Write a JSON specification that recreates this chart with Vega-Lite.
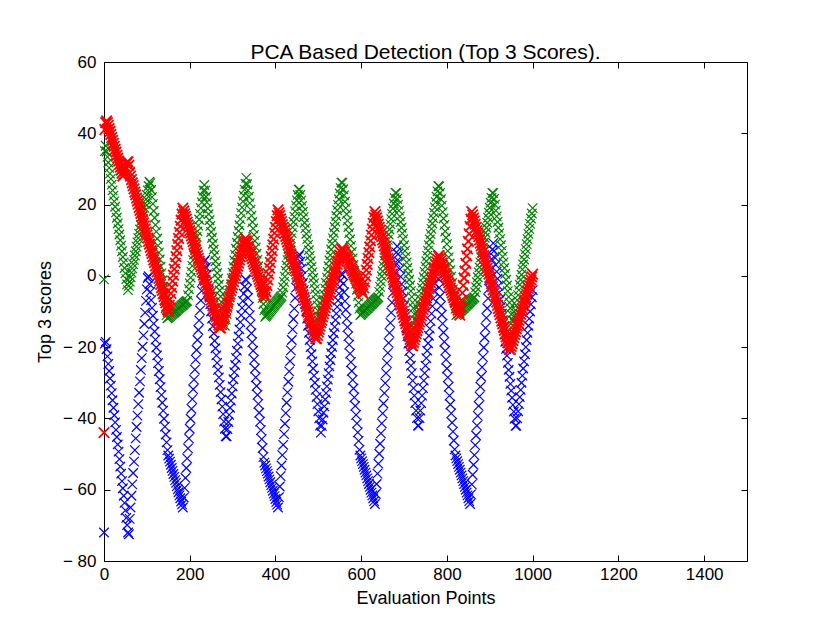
{
"$schema":"https://vega.github.io/schema/vega-lite/v6.json",
"width":643,"height":499,
"autosize":{"type":"none"},
"padding":{"left":104,"top":62,"right":83,"bottom":62},
"background":"white",
"title":{"text":"PCA Based Detection (Top 3 Scores).","font":"Liberation Sans","fontSize":21,"fontWeight":"normal","color":"black","offset":-7,"dy":3},
"config":{"view":{"stroke":"black","strokeWidth":1},
 "axis":{"domain":false,"grid":false,"tickColor":"black","tickWidth":1,"tickSize":-6,"labelFlush":false,"labelFont":"Liberation Sans","labelFontSize":17,"labelColor":"black","titleFont":"Liberation Sans","titleFontSize":18,"titleFontWeight":"normal","titleColor":"black"}},
"data":{"values":[
{"x":0,"b":-72,"g":-1,"r":-44},{"x":2,"b":-19,"g":35,"r":41},{"x":4,"b":-18.5,"g":36.5,"r":43},{"x":6,"b":-20.6,"g":34.9,"r":43.5},{"x":8,"b":-22.6,"g":33.4,"r":43},
{"x":10,"b":-24.7,"g":31.8,"r":42.2},{"x":12,"b":-26.7,"g":30.3,"r":41.3},{"x":14,"b":-28.8,"g":28.7,"r":40.5},{"x":16,"b":-30.8,"g":27.2,"r":39.7},{"x":18,"b":-32.9,"g":25.6,"r":38.8},
{"x":20,"b":-34.9,"g":24,"r":38},{"x":22,"b":-37,"g":22.5,"r":37.2},{"x":24,"b":-39.1,"g":20.9,"r":36.3},{"x":26,"b":-41.1,"g":19.4,"r":35.5},{"x":28,"b":-43.2,"g":17.8,"r":34.7},
{"x":30,"b":-45.2,"g":16.3,"r":33.8},{"x":32,"b":-47.3,"g":14.7,"r":33},{"x":34,"b":-49.3,"g":13.1,"r":32.2},{"x":36,"b":-51.4,"g":11.6,"r":31.3},{"x":38,"b":-53.5,"g":10,"r":30.5},
{"x":40,"b":-55.5,"g":8.5,"r":29.7},{"x":42,"b":-57.6,"g":6.9,"r":28.8},{"x":44,"b":-59.6,"g":5.3,"r":28},{"x":46,"b":-61.7,"g":3.8,"r":28.5},{"x":48,"b":-63.7,"g":2.2,"r":29.5},
{"x":50,"b":-65.8,"g":0.7,"r":30.5},{"x":52,"b":-67.9,"g":-0.9,"r":31.5},{"x":54,"b":-69.9,"g":-2.4,"r":32},{"x":56,"b":-72,"g":-4,"r":32},{"x":58,"b":-72.5,"g":-2.8,"r":31},
{"x":60,"b":-68.2,"g":-1.6,"r":29},{"x":62,"b":-65,"g":-0.4,"r":28},{"x":64,"b":-61.7,"g":0.9,"r":27},{"x":66,"b":-58.5,"g":2.1,"r":26.1},{"x":68,"b":-55.3,"g":3.3,"r":25.3},
{"x":70,"b":-52.1,"g":4.5,"r":24.4},{"x":72,"b":-48.9,"g":5.7,"r":23.5},{"x":74,"b":-45.6,"g":6.9,"r":22.7},{"x":76,"b":-42.4,"g":8.2,"r":21.8},{"x":78,"b":-39.2,"g":9.4,"r":21},
{"x":80,"b":-36,"g":10.6,"r":20.1},{"x":82,"b":-32.8,"g":11.8,"r":19.2},{"x":84,"b":-29.6,"g":13,"r":18.4},{"x":86,"b":-26.4,"g":14.2,"r":17.5},{"x":88,"b":-23.1,"g":15.5,"r":16.6},
{"x":90,"b":-19.9,"g":16.7,"r":15.8},{"x":92,"b":-16.7,"g":17.9,"r":14.9},{"x":94,"b":-13.5,"g":19.1,"r":14},{"x":96,"b":-10.3,"g":20.3,"r":13.2},{"x":98,"b":-7,"g":21.5,"r":12.3},
{"x":100,"b":-3.8,"g":22.7,"r":11.4},{"x":102,"b":-0.6,"g":24,"r":10.6},{"x":104,"b":-0.1,"g":25.2,"r":9.7},{"x":106,"b":-2.3,"g":26.4,"r":8.9},{"x":108,"b":-4.5,"g":26,"r":8},
{"x":110,"b":-6.8,"g":24.1,"r":7.1},{"x":112,"b":-9,"g":22.1,"r":6.3},{"x":114,"b":-11.2,"g":20.2,"r":5.4},{"x":116,"b":-13.4,"g":18.2,"r":4.5},{"x":118,"b":-15.6,"g":16.3,"r":3.7},
{"x":120,"b":-17.9,"g":14.3,"r":2.8},{"x":122,"b":-20.1,"g":12.4,"r":1.9},{"x":124,"b":-22.3,"g":10.4,"r":1.1},{"x":126,"b":-24.5,"g":8.5,"r":0.2},{"x":128,"b":-26.7,"g":6.5,"r":-0.7},
{"x":130,"b":-29,"g":4.6,"r":-1.5},{"x":132,"b":-31.2,"g":2.6,"r":-2.4},{"x":134,"b":-33.4,"g":0.7,"r":-3.3},{"x":136,"b":-35.6,"g":-1.3,"r":-4.1},{"x":138,"b":-37.8,"g":-3.2,"r":-5},
{"x":140,"b":-40.1,"g":-5.2,"r":-5.8},{"x":142,"b":-42.3,"g":-7.1,"r":-6.7},{"x":144,"b":-44.5,"g":-9.1,"r":-7.6},{"x":146,"b":-46.7,"g":-11,"r":-8.5},{"x":148,"b":-48.9,"g":-11.9,"r":-9.4},
{"x":150,"b":-50.4,"g":-11.7,"r":-10},{"x":152,"b":-51.3,"g":-11.5,"r":-8.3},{"x":154,"b":-52.1,"g":-11.3,"r":-6.6},{"x":156,"b":-53,"g":-11,"r":-4.9},{"x":158,"b":-53.9,"g":-10.8,"r":-3.2},
{"x":160,"b":-54.7,"g":-10.6,"r":-1.5},{"x":162,"b":-55.6,"g":-10.4,"r":0.2},{"x":164,"b":-56.4,"g":-10.2,"r":1.9},{"x":166,"b":-57.3,"g":-10,"r":3.6},{"x":168,"b":-58.1,"g":-9.8,"r":5.4},
{"x":170,"b":-59,"g":-9.6,"r":7.1},{"x":172,"b":-59.9,"g":-9.3,"r":8.8},{"x":174,"b":-60.7,"g":-9.1,"r":10.5},{"x":176,"b":-61.6,"g":-8.9,"r":12.2},{"x":178,"b":-62.4,"g":-8.7,"r":13.9},
{"x":180,"b":-63.3,"g":-8.5,"r":15.6},{"x":182,"b":-64.1,"g":-8.3,"r":17.3},{"x":184,"b":-65,"g":-8.1,"r":19},{"x":186,"b":-62.2,"g":-7.9,"r":18.2},{"x":188,"b":-59.5,"g":-7.6,"r":17.4},
{"x":190,"b":-56.7,"g":-7.4,"r":16.7},{"x":192,"b":-53.9,"g":-7.2,"r":15.9},{"x":194,"b":-51.2,"g":-7,"r":15.1},{"x":196,"b":-48.4,"g":-5.4,"r":14.3},{"x":198,"b":-45.6,"g":-3.7,"r":13.5},
{"x":200,"b":-42.9,"g":-2.1,"r":12.7},{"x":202,"b":-40.1,"g":-0.5,"r":12},{"x":204,"b":-37.3,"g":1.1,"r":11.2},{"x":206,"b":-34.6,"g":2.8,"r":10.4},{"x":208,"b":-31.8,"g":4.4,"r":9.6},
{"x":210,"b":-29.1,"g":6,"r":8.8},{"x":212,"b":-26.3,"g":7.6,"r":8.1},{"x":214,"b":-23.5,"g":9.3,"r":7.3},{"x":216,"b":-20.8,"g":10.9,"r":6.5},{"x":218,"b":-18,"g":12.5,"r":5.7},
{"x":220,"b":-15.2,"g":14.1,"r":4.9},{"x":222,"b":-12.5,"g":15.8,"r":4.1},{"x":224,"b":-9.7,"g":17.4,"r":3.4},{"x":226,"b":-6.9,"g":19,"r":2.6},{"x":228,"b":-4.2,"g":20.6,"r":1.8},
{"x":230,"b":-1.4,"g":22.3,"r":1},{"x":232,"b":1.4,"g":23.9,"r":0.2},{"x":234,"b":4.1,"g":25.5,"r":-0.5},{"x":236,"b":4.5,"g":23.9,"r":-1.3},{"x":238,"b":2.4,"g":22.2,"r":-2.1},
{"x":240,"b":0.4,"g":20.6,"r":-2.9},{"x":242,"b":-1.7,"g":18.9,"r":-3.7},{"x":244,"b":-3.8,"g":17.3,"r":-4.5},{"x":246,"b":-5.8,"g":15.6,"r":-5.2},{"x":248,"b":-7.9,"g":14,"r":-6},
{"x":250,"b":-10,"g":12.3,"r":-6.8},{"x":252,"b":-12,"g":10.7,"r":-7.6},{"x":254,"b":-14.1,"g":9,"r":-8.4},{"x":256,"b":-16.1,"g":7.4,"r":-9.1},{"x":258,"b":-18.2,"g":5.8,"r":-9.9},
{"x":260,"b":-20.3,"g":4.1,"r":-10.7},{"x":262,"b":-22.3,"g":2.5,"r":-11.5},{"x":264,"b":-24.4,"g":0.8,"r":-12.3},{"x":266,"b":-26.4,"g":-0.8,"r":-13},{"x":268,"b":-28.5,"g":-2.5,"r":-13.8},
{"x":270,"b":-30.6,"g":-4.1,"r":-14.6},{"x":272,"b":-32.6,"g":-5.8,"r":-14.6},{"x":274,"b":-34.7,"g":-7.4,"r":-13.7},{"x":276,"b":-36.7,"g":-9.1,"r":-12.8},{"x":278,"b":-38.8,"g":-10.7,"r":-12},
{"x":280,"b":-40.9,"g":-12.4,"r":-11.1},{"x":282,"b":-42.9,"g":-14,"r":-10.2},{"x":284,"b":-45,"g":-12.3,"r":-9.4},{"x":286,"b":-45,"g":-10.7,"r":-8.5},{"x":288,"b":-43,"g":-9,"r":-7.7},
{"x":290,"b":-41,"g":-7.4,"r":-6.8},{"x":292,"b":-39,"g":-5.7,"r":-5.9},{"x":294,"b":-37,"g":-4,"r":-5.1},{"x":296,"b":-35,"g":-2.4,"r":-4.2},{"x":298,"b":-33,"g":-0.7,"r":-3.3},
{"x":300,"b":-31,"g":0.9,"r":-2.5},{"x":302,"b":-29,"g":2.6,"r":-1.6},{"x":304,"b":-27,"g":4.3,"r":-0.7},{"x":306,"b":-25,"g":5.9,"r":0.1},{"x":308,"b":-23,"g":7.6,"r":1},
{"x":310,"b":-21,"g":9.3,"r":1.9},{"x":312,"b":-19,"g":10.9,"r":2.7},{"x":314,"b":-17,"g":12.6,"r":3.6},{"x":316,"b":-15,"g":14.2,"r":4.5},{"x":318,"b":-13,"g":15.9,"r":5.3},
{"x":320,"b":-11,"g":17.6,"r":6.2},{"x":322,"b":-9,"g":19.2,"r":7},{"x":324,"b":-7,"g":20.9,"r":7.9},{"x":326,"b":-5,"g":22.5,"r":8.8},{"x":328,"b":-3,"g":24.2,"r":9.6},
{"x":330,"b":-1,"g":25.8,"r":10.5},{"x":332,"b":-1.2,"g":27.5,"r":9.8},{"x":334,"b":-3.7,"g":25.7,"r":9.1},{"x":336,"b":-6.2,"g":24,"r":8.3},{"x":338,"b":-8.7,"g":22.2,"r":7.6},
{"x":340,"b":-11.1,"g":20.4,"r":6.9},{"x":342,"b":-13.6,"g":18.6,"r":6.2},{"x":344,"b":-16.1,"g":16.9,"r":5.5},{"x":346,"b":-18.6,"g":15.1,"r":4.8},{"x":348,"b":-21,"g":13.3,"r":4},
{"x":350,"b":-23.5,"g":11.5,"r":3.3},{"x":352,"b":-26,"g":9.8,"r":2.6},{"x":354,"b":-28.5,"g":8,"r":1.9},{"x":356,"b":-30.9,"g":6.2,"r":1.2},{"x":358,"b":-33.4,"g":4.5,"r":0.5},
{"x":360,"b":-35.9,"g":2.7,"r":-0.2},{"x":362,"b":-38.4,"g":0.9,"r":-1},{"x":364,"b":-40.9,"g":-0.9,"r":-1.7},{"x":366,"b":-43.3,"g":-2.6,"r":-2.4},{"x":368,"b":-45.8,"g":-4.4,"r":-3.1},
{"x":370,"b":-48.3,"g":-6.2,"r":-3.8},{"x":372,"b":-50.8,"g":-7.9,"r":-4.6},{"x":374,"b":-52.4,"g":-9.7,"r":-5.3},{"x":376,"b":-53.2,"g":-11.5,"r":-6},{"x":378,"b":-54,"g":-11.2,"r":-4.4},
{"x":380,"b":-54.8,"g":-10.9,"r":-2.7},{"x":382,"b":-55.5,"g":-10.6,"r":-1.1},{"x":384,"b":-56.3,"g":-10.3,"r":0.5},{"x":386,"b":-57.1,"g":-10,"r":2.2},{"x":388,"b":-57.9,"g":-9.7,"r":3.8},
{"x":390,"b":-58.7,"g":-9.3,"r":5.4},{"x":392,"b":-59.5,"g":-9,"r":7.1},{"x":394,"b":-60.3,"g":-8.7,"r":8.7},{"x":396,"b":-61.1,"g":-8.4,"r":10.3},{"x":398,"b":-61.8,"g":-8.1,"r":12},
{"x":400,"b":-62.6,"g":-7.8,"r":13.6},{"x":402,"b":-63.4,"g":-7.5,"r":15.2},{"x":404,"b":-64.2,"g":-7.2,"r":16.9},{"x":406,"b":-65,"g":-6.9,"r":18.5},{"x":408,"b":-62.1,"g":-6.6,"r":17.7},
{"x":410,"b":-59.1,"g":-6.3,"r":16.9},{"x":412,"b":-56.2,"g":-6,"r":16},{"x":414,"b":-53.2,"g":-5.7,"r":15.2},{"x":416,"b":-50.3,"g":-4.7,"r":14.4},{"x":418,"b":-47.4,"g":-3.2,"r":13.6},
{"x":420,"b":-44.4,"g":-1.7,"r":12.8},{"x":422,"b":-41.5,"g":-0.2,"r":11.9},{"x":424,"b":-38.5,"g":1.4,"r":11.1},{"x":426,"b":-35.6,"g":2.9,"r":10.3},{"x":428,"b":-32.7,"g":4.4,"r":9.5},
{"x":430,"b":-29.7,"g":5.9,"r":8.7},{"x":432,"b":-26.8,"g":7.5,"r":7.8},{"x":434,"b":-23.9,"g":9,"r":7},{"x":436,"b":-20.9,"g":10.5,"r":6.2},{"x":438,"b":-18,"g":12,"r":5.4},
{"x":440,"b":-15,"g":13.6,"r":4.6},{"x":442,"b":-12.1,"g":15.1,"r":3.7},{"x":444,"b":-9.2,"g":16.6,"r":2.9},{"x":446,"b":-6.2,"g":18.1,"r":2.1},{"x":448,"b":-3.3,"g":19.7,"r":1.3},
{"x":450,"b":-0.3,"g":21.2,"r":0.5},{"x":452,"b":2.6,"g":22.7,"r":-0.4},{"x":454,"b":5.5,"g":24.2,"r":-1.2},{"x":456,"b":6,"g":24.2,"r":-2},{"x":458,"b":4,"g":22.7,"r":-2.8},
{"x":460,"b":2,"g":21.1,"r":-3.6},{"x":462,"b":0,"g":19.6,"r":-4.5},{"x":464,"b":-2,"g":18,"r":-5.3},{"x":466,"b":-4,"g":16.5,"r":-6.1},{"x":468,"b":-6,"g":14.9,"r":-6.9},
{"x":470,"b":-8,"g":13.4,"r":-7.7},{"x":472,"b":-10,"g":11.8,"r":-8.6},{"x":474,"b":-12,"g":10.3,"r":-9.4},{"x":476,"b":-14,"g":8.7,"r":-10.2},{"x":478,"b":-16,"g":7.2,"r":-11},
{"x":480,"b":-18,"g":5.6,"r":-11.8},{"x":482,"b":-20,"g":4.1,"r":-12.7},{"x":484,"b":-22,"g":2.5,"r":-13.5},{"x":486,"b":-24,"g":1,"r":-14.3},{"x":488,"b":-26,"g":-0.6,"r":-15.1},
{"x":490,"b":-28,"g":-2.1,"r":-15.9},{"x":492,"b":-30,"g":-3.7,"r":-16.8},{"x":494,"b":-32,"g":-5.2,"r":-17.6},{"x":496,"b":-34,"g":-6.8,"r":-17.6},{"x":498,"b":-36,"g":-8.3,"r":-16.7},
{"x":500,"b":-38,"g":-9.9,"r":-15.8},{"x":502,"b":-40,"g":-11.4,"r":-15},{"x":504,"b":-42,"g":-13,"r":-14.1},{"x":506,"b":-44,"g":-11.4,"r":-13.2},{"x":508,"b":-42.1,"g":-9.9,"r":-12.4},
{"x":510,"b":-40.3,"g":-8.3,"r":-11.5},{"x":512,"b":-38.4,"g":-6.7,"r":-10.6},{"x":514,"b":-36.6,"g":-5.2,"r":-9.8},{"x":516,"b":-34.7,"g":-3.6,"r":-8.9},{"x":518,"b":-32.9,"g":-2,"r":-8},
{"x":520,"b":-31,"g":-0.5,"r":-7.2},{"x":522,"b":-29.1,"g":1.1,"r":-6.3},{"x":524,"b":-27.3,"g":2.7,"r":-5.4},{"x":526,"b":-25.4,"g":4.3,"r":-4.6},{"x":528,"b":-23.6,"g":5.8,"r":-3.7},
{"x":530,"b":-21.7,"g":7.4,"r":-2.8},{"x":532,"b":-19.9,"g":9,"r":-2},{"x":534,"b":-18,"g":10.5,"r":-1.1},{"x":536,"b":-16.1,"g":12.1,"r":-0.2},{"x":538,"b":-14.3,"g":13.7,"r":0.6},
{"x":540,"b":-12.4,"g":15.2,"r":1.5},{"x":542,"b":-10.6,"g":16.8,"r":2.4},{"x":544,"b":-8.7,"g":18.4,"r":3.2},{"x":546,"b":-6.9,"g":19.9,"r":4.1},{"x":548,"b":-5,"g":21.5,"r":5},
{"x":550,"b":-3.1,"g":23.1,"r":5.8},{"x":552,"b":-1.3,"g":24.6,"r":6.7},{"x":554,"b":0.6,"g":26.2,"r":7.6},{"x":556,"b":0.3,"g":26.1,"r":7.7},{"x":558,"b":-2.2,"g":24.3,"r":7.2},
{"x":560,"b":-4.6,"g":22.6,"r":6.7},{"x":562,"b":-7.1,"g":20.8,"r":6.1},{"x":564,"b":-9.5,"g":19,"r":5.6},{"x":566,"b":-12,"g":17.3,"r":5.1},{"x":568,"b":-14.4,"g":15.5,"r":4.6},
{"x":570,"b":-16.9,"g":13.7,"r":4},{"x":572,"b":-19.3,"g":12,"r":3.5},{"x":574,"b":-21.8,"g":10.2,"r":3},{"x":576,"b":-24.2,"g":8.4,"r":2.4},{"x":578,"b":-26.7,"g":6.7,"r":1.9},
{"x":580,"b":-29.2,"g":4.9,"r":1.4},{"x":582,"b":-31.6,"g":3.1,"r":0.8},{"x":584,"b":-34.1,"g":1.4,"r":0.3},{"x":586,"b":-36.5,"g":-0.4,"r":-0.2},{"x":588,"b":-39,"g":-2.2,"r":-0.8},
{"x":590,"b":-41.4,"g":-3.9,"r":-1.3},{"x":592,"b":-43.9,"g":-5.7,"r":-1.8},{"x":594,"b":-46.3,"g":-7.5,"r":-2.3},{"x":596,"b":-48.8,"g":-9.2,"r":-2.9},{"x":598,"b":-50.4,"g":-11,"r":-3.4},
{"x":600,"b":-51.2,"g":-10.8,"r":-3.9},{"x":602,"b":-52,"g":-10.5,"r":-4.5},{"x":604,"b":-52.8,"g":-10.3,"r":-5},{"x":606,"b":-53.6,"g":-10,"r":-3.4},{"x":608,"b":-54.4,"g":-9.8,"r":-1.7},
{"x":610,"b":-55.2,"g":-9.6,"r":-0.1},{"x":612,"b":-56,"g":-9.3,"r":1.6},{"x":614,"b":-56.8,"g":-9.1,"r":3.2},{"x":616,"b":-57.6,"g":-8.9,"r":4.9},{"x":618,"b":-58.4,"g":-8.6,"r":6.5},
{"x":620,"b":-59.2,"g":-8.4,"r":8.1},{"x":622,"b":-60,"g":-8.1,"r":9.8},{"x":624,"b":-60.8,"g":-7.9,"r":11.4},{"x":626,"b":-61.6,"g":-7.7,"r":13.1},{"x":628,"b":-62.4,"g":-7.4,"r":14.7},
{"x":630,"b":-63.2,"g":-7.2,"r":16.4},{"x":632,"b":-64,"g":-6.9,"r":18},{"x":634,"b":-61.2,"g":-6.7,"r":17.1},{"x":636,"b":-58.4,"g":-6.5,"r":16.3},{"x":638,"b":-55.5,"g":-6.2,"r":15.4},
{"x":640,"b":-52.7,"g":-6,"r":14.5},{"x":642,"b":-49.9,"g":-4.5,"r":13.6},{"x":644,"b":-47.1,"g":-3.1,"r":12.8},{"x":646,"b":-44.2,"g":-1.6,"r":11.9},{"x":648,"b":-41.4,"g":-0.1,"r":11},
{"x":650,"b":-38.6,"g":1.3,"r":10.1},{"x":652,"b":-35.8,"g":2.8,"r":9.3},{"x":654,"b":-32.9,"g":4.2,"r":8.4},{"x":656,"b":-30.1,"g":5.7,"r":7.5},{"x":658,"b":-27.3,"g":7.2,"r":6.6},
{"x":660,"b":-24.5,"g":8.6,"r":5.8},{"x":662,"b":-21.6,"g":10.1,"r":4.9},{"x":664,"b":-18.8,"g":11.6,"r":4},{"x":666,"b":-16,"g":13,"r":3.1},{"x":668,"b":-13.2,"g":14.5,"r":2.3},
{"x":670,"b":-10.3,"g":15.9,"r":1.4},{"x":672,"b":-7.5,"g":17.4,"r":0.5},{"x":674,"b":-4.7,"g":18.9,"r":-0.4},{"x":676,"b":-1.9,"g":20.3,"r":-1.2},{"x":678,"b":1,"g":21.8,"r":-2.1},
{"x":680,"b":3.8,"g":23.3,"r":-3},{"x":682,"b":6.6,"g":23.2,"r":-3.9},{"x":684,"b":8.3,"g":21.6,"r":-4.7},{"x":686,"b":6.1,"g":20,"r":-5.6},{"x":688,"b":4,"g":18.3,"r":-6.5},
{"x":690,"b":1.9,"g":16.7,"r":-7.3},{"x":692,"b":-0.2,"g":15.1,"r":-8.2},{"x":694,"b":-2.3,"g":13.5,"r":-9.1},{"x":696,"b":-4.4,"g":11.9,"r":-10},{"x":698,"b":-6.4,"g":10.3,"r":-10.8},
{"x":700,"b":-8.5,"g":8.6,"r":-11.7},{"x":702,"b":-10.6,"g":7,"r":-12.6},{"x":704,"b":-12.7,"g":5.4,"r":-13.4},{"x":706,"b":-14.8,"g":3.8,"r":-14.3},{"x":708,"b":-16.9,"g":2.2,"r":-15.2},
{"x":710,"b":-19,"g":0.6,"r":-16.1},{"x":712,"b":-21.1,"g":-1.1,"r":-16.9},{"x":714,"b":-23.2,"g":-2.7,"r":-17.8},{"x":716,"b":-25.2,"g":-4.3,"r":-18.7},{"x":718,"b":-27.3,"g":-5.9,"r":-19.6},
{"x":720,"b":-29.4,"g":-7.5,"r":-19.6},{"x":722,"b":-31.5,"g":-9.1,"r":-18.7},{"x":724,"b":-33.6,"g":-10.8,"r":-17.9},{"x":726,"b":-35.7,"g":-12.4,"r":-17.1},{"x":728,"b":-37.8,"g":-14,"r":-16.2},
{"x":730,"b":-39.9,"g":-12.5,"r":-15.4},{"x":732,"b":-42,"g":-11,"r":-14.5},{"x":734,"b":-42,"g":-9.5,"r":-13.7},{"x":736,"b":-39.9,"g":-8,"r":-12.9},{"x":738,"b":-37.8,"g":-6.5,"r":-12},
{"x":740,"b":-35.7,"g":-4.9,"r":-11.2},{"x":742,"b":-33.6,"g":-3.4,"r":-10.4},{"x":744,"b":-31.5,"g":-1.9,"r":-9.5},{"x":746,"b":-29.4,"g":-0.4,"r":-8.7},{"x":748,"b":-27.3,"g":1.1,"r":-7.8},
{"x":750,"b":-25.2,"g":2.6,"r":-7},{"x":752,"b":-23.1,"g":4.1,"r":-6.2},{"x":754,"b":-21,"g":5.6,"r":-5.3},{"x":756,"b":-18.9,"g":7.1,"r":-4.5},{"x":758,"b":-16.8,"g":8.6,"r":-3.6},
{"x":760,"b":-14.8,"g":10.2,"r":-2.8},{"x":762,"b":-12.7,"g":11.7,"r":-2},{"x":764,"b":-10.6,"g":13.2,"r":-1.1},{"x":766,"b":-8.5,"g":14.7,"r":-0.3},{"x":768,"b":-6.4,"g":16.2,"r":0.6},
{"x":770,"b":-4.3,"g":17.7,"r":1.4},{"x":772,"b":-2.2,"g":19.2,"r":2.2},{"x":774,"b":-0.1,"g":20.7,"r":3.1},{"x":776,"b":2,"g":22.2,"r":3.9},{"x":778,"b":1.7,"g":23.7,"r":4.7},
{"x":780,"b":-0.8,"g":25.2,"r":5.6},{"x":782,"b":-3.3,"g":25.1,"r":5.7},{"x":784,"b":-5.8,"g":23.3,"r":5},{"x":786,"b":-8.4,"g":21.5,"r":4.3},{"x":788,"b":-10.9,"g":19.7,"r":3.6},
{"x":790,"b":-13.4,"g":17.9,"r":2.9},{"x":792,"b":-15.9,"g":16.1,"r":2.2},{"x":794,"b":-18.5,"g":14.3,"r":1.5},{"x":796,"b":-21,"g":12.5,"r":0.8},{"x":798,"b":-23.5,"g":10.7,"r":0.1},
{"x":800,"b":-26,"g":8.9,"r":-0.6},{"x":802,"b":-28.5,"g":7,"r":-1.3},{"x":804,"b":-31.1,"g":5.2,"r":-2},{"x":806,"b":-33.6,"g":3.4,"r":-2.7},{"x":808,"b":-36.1,"g":1.6,"r":-3.4},
{"x":810,"b":-38.6,"g":-0.2,"r":-4.1},{"x":812,"b":-41.2,"g":-2,"r":-4.8},{"x":814,"b":-43.7,"g":-3.8,"r":-5.5},{"x":816,"b":-46.2,"g":-5.6,"r":-6.1},{"x":818,"b":-48.7,"g":-7.4,"r":-6.8},
{"x":820,"b":-50.4,"g":-9.2,"r":-7.5},{"x":822,"b":-51.2,"g":-11,"r":-8.2},{"x":824,"b":-52,"g":-10.8,"r":-8.9},{"x":826,"b":-52.8,"g":-10.5,"r":-9.6},{"x":828,"b":-53.6,"g":-10.3,"r":-10.3},
{"x":830,"b":-54.4,"g":-10,"r":-11},{"x":832,"b":-55.2,"g":-9.8,"r":-8.9},{"x":834,"b":-56,"g":-9.6,"r":-6.9},{"x":836,"b":-56.8,"g":-9.3,"r":-4.8},{"x":838,"b":-57.6,"g":-9.1,"r":-2.7},
{"x":840,"b":-58.4,"g":-8.9,"r":-0.6},{"x":842,"b":-59.2,"g":-8.6,"r":1.4},{"x":844,"b":-60,"g":-8.4,"r":3.5},{"x":846,"b":-60.8,"g":-8.1,"r":5.6},{"x":848,"b":-61.6,"g":-7.9,"r":7.6},
{"x":850,"b":-62.4,"g":-7.7,"r":9.7},{"x":852,"b":-63.2,"g":-7.4,"r":11.8},{"x":854,"b":-64,"g":-7.2,"r":13.9},{"x":856,"b":-61.3,"g":-6.9,"r":15.9},{"x":858,"b":-58.5,"g":-6.7,"r":18},
{"x":860,"b":-55.8,"g":-6.5,"r":17.1},{"x":862,"b":-53,"g":-6.2,"r":16.2},{"x":864,"b":-50.3,"g":-6,"r":15.4},{"x":866,"b":-47.5,"g":-4.6,"r":14.5},{"x":868,"b":-44.8,"g":-3.2,"r":13.6},
{"x":870,"b":-42,"g":-1.8,"r":12.7},{"x":872,"b":-39.3,"g":-0.4,"r":11.9},{"x":874,"b":-36.5,"g":1,"r":11},{"x":876,"b":-33.8,"g":2.4,"r":10.1},{"x":878,"b":-31.1,"g":3.8,"r":9.2},
{"x":880,"b":-28.3,"g":5.2,"r":8.4},{"x":882,"b":-25.6,"g":6.6,"r":7.5},{"x":884,"b":-22.8,"g":7.9,"r":6.6},{"x":886,"b":-20.1,"g":9.3,"r":5.7},{"x":888,"b":-17.3,"g":10.7,"r":4.9},
{"x":890,"b":-14.6,"g":12.1,"r":4},{"x":892,"b":-11.8,"g":13.5,"r":3.1},{"x":894,"b":-9.1,"g":14.9,"r":2.2},{"x":896,"b":-6.3,"g":16.3,"r":1.3},{"x":898,"b":-3.6,"g":17.7,"r":0.5},
{"x":900,"b":-0.8,"g":19.1,"r":-0.4},{"x":902,"b":1.9,"g":20.5,"r":-1.3},{"x":904,"b":4.7,"g":21.9,"r":-2.2},{"x":906,"b":7.4,"g":23.3,"r":-3},{"x":908,"b":9.2,"g":23.2,"r":-3.9},
{"x":910,"b":7,"g":21.6,"r":-4.8},{"x":912,"b":5.1,"g":20,"r":-5.7},{"x":914,"b":3.1,"g":18.3,"r":-6.5},{"x":916,"b":1.2,"g":16.7,"r":-7.4},{"x":918,"b":-0.8,"g":15.1,"r":-8.3},
{"x":920,"b":-2.8,"g":13.5,"r":-9.2},{"x":922,"b":-4.7,"g":11.9,"r":-10},{"x":924,"b":-6.7,"g":10.3,"r":-10.9},{"x":926,"b":-8.7,"g":8.6,"r":-11.8},{"x":928,"b":-10.6,"g":7,"r":-12.7},
{"x":930,"b":-12.6,"g":5.4,"r":-13.5},{"x":932,"b":-14.6,"g":3.8,"r":-14.4},{"x":934,"b":-16.5,"g":2.2,"r":-15.3},{"x":936,"b":-18.5,"g":0.6,"r":-16.2},{"x":938,"b":-20.5,"g":-1.1,"r":-17.1},
{"x":940,"b":-22.4,"g":-2.7,"r":-17.9},{"x":942,"b":-24.4,"g":-4.3,"r":-18.8},{"x":944,"b":-26.4,"g":-5.9,"r":-19.7},{"x":946,"b":-28.3,"g":-7.5,"r":-20.6},{"x":948,"b":-30.3,"g":-9.1,"r":-20.6},
{"x":950,"b":-32.2,"g":-10.8,"r":-19.8},{"x":952,"b":-34.2,"g":-12.4,"r":-19},{"x":954,"b":-36.2,"g":-14,"r":-18.2},{"x":956,"b":-38.1,"g":-12.6,"r":-17.3},{"x":958,"b":-40.1,"g":-11.1,"r":-16.5},
{"x":960,"b":-42.1,"g":-9.7,"r":-15.7},{"x":962,"b":-42,"g":-8.3,"r":-14.9},{"x":964,"b":-40,"g":-6.8,"r":-14.1},{"x":966,"b":-38,"g":-5.4,"r":-13.3},{"x":968,"b":-36,"g":-4,"r":-12.5},
{"x":970,"b":-34,"g":-2.5,"r":-11.7},{"x":972,"b":-32,"g":-1.1,"r":-10.8},{"x":974,"b":-30,"g":0.3,"r":-10},{"x":976,"b":-28,"g":1.8,"r":-9.2},{"x":978,"b":-26,"g":3.2,"r":-8.4},
{"x":980,"b":-24,"g":4.6,"r":-7.6},{"x":982,"b":-22,"g":6.1,"r":-6.8},{"x":984,"b":-20,"g":7.5,"r":-6},{"x":986,"b":-18,"g":8.9,"r":-5.2},{"x":988,"b":-16,"g":10.3,"r":-4.3},
{"x":990,"b":-14,"g":11.8,"r":-3.5},{"x":992,"b":-12,"g":13.2,"r":-2.7},{"x":994,"b":-10,"g":14.6,"r":-1.9},{"x":996,"b":-8,"g":16.1,"r":-1.1},{"x":998,"b":-6,"g":17.5,"r":-0.3},
{"x":1000,"b":-4,"g":19,"r":0.5}
]},
"resolve":{"axis":{"x":"independent","y":"independent"}},
"layer":[
{"mark":{"type":"point","shape":"M-1,-1L1,1M-1,1L1,-1","filled":false,"stroke":"#0000ff","strokeWidth":1.2,"size":90,"opacity":1},
 "encoding":{
  "x":{"field":"x","type":"quantitative","scale":{"domain":[0,1500],"nice":false,"zero":false},"axis":{"orient":"bottom","values":[0,200,400,600,800,1000,1200,1400],"format":"d","title":"Evaluation Points","labelPadding":11,"titlePadding":7}},
  "y":{"field":"b","type":"quantitative","scale":{"domain":[-80,60],"nice":false,"zero":false},"axis":{"orient":"left","values":[-80,-60,-40,-20,0,20,40,60],"title":"Top 3 scores","labelPadding":14,"titlePadding":8,"labelExpr":"datum.value < 0 ? '\u2212 ' + (-datum.value) : datum.label"}}}},
{"mark":{"type":"point","shape":"M-1,-1L1,1M-1,1L1,-1","filled":false,"stroke":"#008000","strokeWidth":1.2,"size":90,"opacity":1},
 "encoding":{
  "x":{"field":"x","type":"quantitative","scale":{"domain":[0,1500],"nice":false,"zero":false},"axis":{"orient":"top","values":[0,200,400,600,800,1000,1200,1400],"labels":false,"title":null}},
  "y":{"field":"g","type":"quantitative","scale":{"domain":[-80,60],"nice":false,"zero":false},"axis":{"orient":"right","values":[-80,-60,-40,-20,0,20,40,60],"labels":false,"title":null}}}},
{"mark":{"type":"point","shape":"M-1,-1L1,1M-1,1L1,-1","filled":false,"stroke":"#ff0000","strokeWidth":1.8,"size":110,"opacity":1},
 "encoding":{
  "x":{"field":"x","type":"quantitative","scale":{"domain":[0,1500],"nice":false,"zero":false},"axis":null},
  "y":{"field":"r","type":"quantitative","scale":{"domain":[-80,60],"nice":false,"zero":false},"axis":null}}}
]
}
